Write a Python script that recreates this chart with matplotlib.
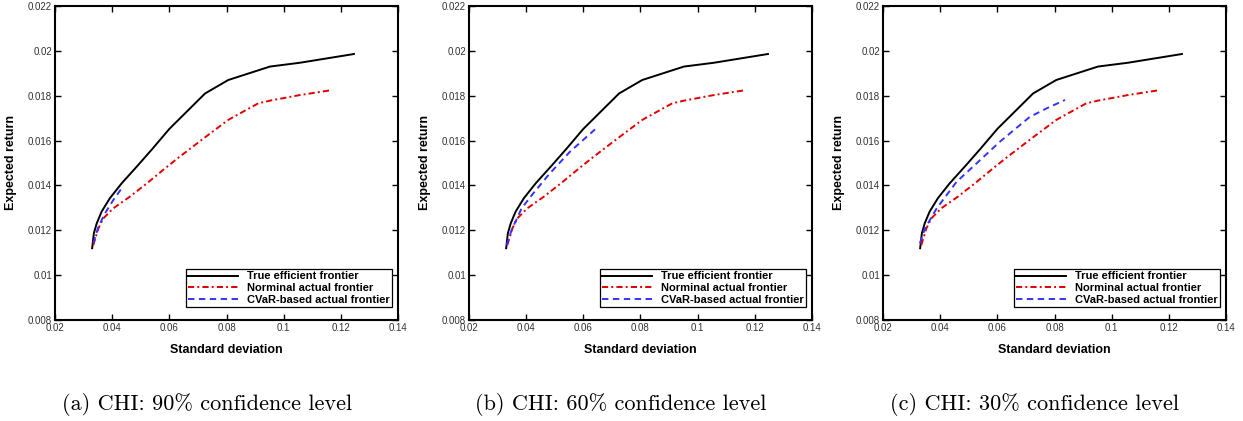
import matplotlib
matplotlib.use('Agg')
import matplotlib.pyplot as plt

# true efficient frontier (same in every panel)
true_sd = [0.0330, 0.0336, 0.0346, 0.0363, 0.0392, 0.0433, 0.0491, 0.0540, 0.0600, 0.0725, 0.0806, 0.0952, 0.1057, 0.1246]
true_ret = [0.01120, 0.01187, 0.01231, 0.01283, 0.01343, 0.01409, 0.01491, 0.01562, 0.01652, 0.01810, 0.01870, 0.01930, 0.01947, 0.01986]

# nominal actual frontier (same in every panel)
nom_sd = [0.0334, 0.0352, 0.0369, 0.0404, 0.0462, 0.0521, 0.0585, 0.0630, 0.0713, 0.0806, 0.0911, 0.0952, 0.1057, 0.1168]
nom_ret = [0.01134, 0.01209, 0.01253, 0.01298, 0.01350, 0.01409, 0.01476, 0.01522, 0.01603, 0.01692, 0.01766, 0.01778, 0.01803, 0.01825]

# CVaR-based actual frontier, one per confidence level
cvar_sd_90 = [0.0334, 0.0352, 0.0375, 0.0404, 0.0437]
cvar_ret_90 = [0.01142, 0.01216, 0.01276, 0.01335, 0.01394]
cvar_sd_60 = [0.0332, 0.0349, 0.0384, 0.0425, 0.0483, 0.0553, 0.0641]
cvar_ret_60 = [0.01134, 0.01201, 0.01298, 0.01365, 0.01454, 0.01550, 0.01650]
cvar_sd_30 = [0.0329, 0.0347, 0.0388, 0.0458, 0.0528, 0.0609, 0.0714, 0.0773, 0.0837]
cvar_ret_30 = [0.01142, 0.01209, 0.01298, 0.01417, 0.01499, 0.01595, 0.01706, 0.01744, 0.01781]

captions = ['(a) CHI: 90% confidence level',
            '(b) CHI: 60% confidence level',
            '(c) CHI: 30% confidence level']
cvar = [(cvar_sd_90, cvar_ret_90), (cvar_sd_60, cvar_ret_60), (cvar_sd_30, cvar_ret_30)]

xticks = [0.02, 0.04, 0.06, 0.08, 0.1, 0.12, 0.14]
yticks = [0.008, 0.01, 0.012, 0.014, 0.016, 0.018, 0.02, 0.022]

plt.rcParams['font.family'] = ['Liberation Sans', 'DejaVu Sans']

fig = plt.figure(figsize=(12.43, 4.21), dpi=100)
lefts = [55, 469, 883]

for i in range(3):
    ax = fig.add_axes([lefts[i] / 1243, 1 - 320 / 421, 343 / 1243, 314 / 421])
    ax.plot(true_sd, true_ret, color='black', lw=1.4, label='True efficient frontier')
    ax.plot(nom_sd, nom_ret, color='#e00000', lw=1.4, ls=(0, (3.2, 1.6, 1, 1.6)), label='Norminal actual frontier')
    ax.plot(cvar[i][0], cvar[i][1], color='#3333ff', lw=1.4, ls=(0, (3.3, 2.3)), label='CVaR-based actual frontier')

    ax.set_xlim(0.02, 0.14)
    ax.set_ylim(0.008, 0.022)
    ax.set_xticks(xticks)
    ax.set_yticks(yticks)
    ax.set_xticklabels(['0.02', '0.04', '0.06', '0.08', '0.1', '0.12', '0.14'])
    ax.set_yticklabels(['0.008', '0.01', '0.012', '0.014', '0.016', '0.018', '0.02', '0.022'])
    ax.tick_params(direction='in', top=True, right=True, length=4, width=1, labelsize=7, pad=2,
                   labelcolor='#333333')
    for s in ax.spines.values():
        s.set_linewidth(1.5)

    ax.set_xlabel('Standard deviation', fontsize=9, fontweight='bold', labelpad=8)
    ax.set_ylabel('Expected return', fontsize=9, fontweight='bold', labelpad=8)

    leg = ax.legend(loc='lower right', bbox_to_anchor=(0.9825, 0.0414), prop={'size': 8, 'weight': 'bold'},
                    fancybox=False, framealpha=1, edgecolor='black', borderpad=0.2, labelspacing=0.15,
                    handlelength=4.5, handletextpad=0.8, borderaxespad=0)
    leg.get_frame().set_linewidth(0.9)

    fig.text((lefts[i] + 171 - 19) / 1243, 1 - 404 / 421, captions[i], ha='center', va='center',
             fontsize=16, family='cmr10')

fig.savefig('out.png', dpi=100)
